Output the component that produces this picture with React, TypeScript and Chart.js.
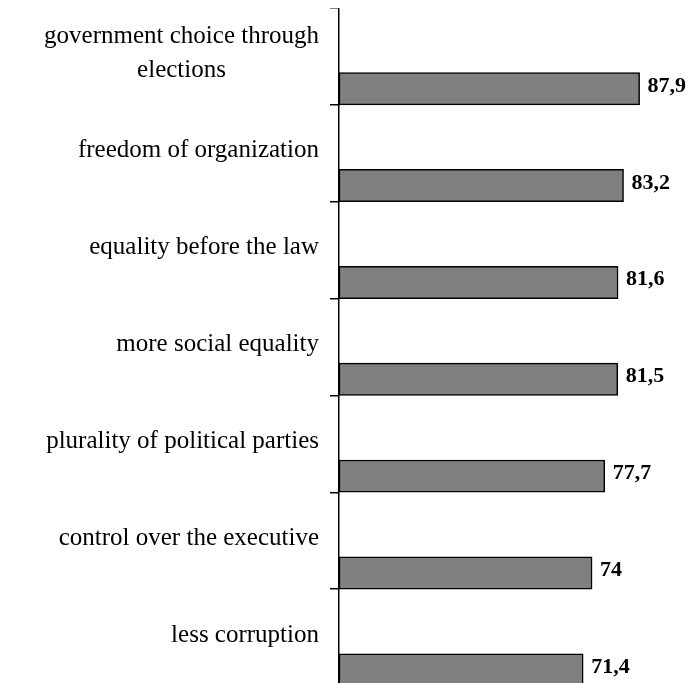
import React, { useEffect, useRef } from "react";
import { Chart, registerables } from "chart.js";

Chart.register(...registerables);

const categories: string[][] = [
  ["government choice through", "elections"],
  ["freedom of organization"],
  ["equality before the law"],
  ["more social equality"],
  ["plurality of political parties"],
  ["control over the executive"],
  ["less corruption"],
];
const values: number[] = [87.9, 83.2, 81.6, 81.5, 77.7, 74, 71.4];
const valueLabels: string[] = ["87,9", "83,2", "81,6", "81,5", "77,7", "74", "71,4"];

const FONT = '"Liberation Serif", "Times New Roman", serif';

const labelPlugin = {
  id: "customLabels",
  afterDraw(chart: any) {
    const ctx = chart.ctx;
    const yScale = chart.scales.y;
    ctx.save();
    ctx.fillStyle = "#000";
    ctx.font = `25px ${FONT}`;
    ctx.textBaseline = "alphabetic";
    ctx.textAlign = "center";
    const rightEdge = yScale.right - 20;
    categories.forEach((lines, i) => {
      const cy = yScale.getPixelForValue(i);
      const widest = Math.max(...lines.map((l) => ctx.measureText(l).width));
      const cx = rightEdge - widest / 2;
      lines.forEach((line, j) => {
        const y = cy + 4 + (j - (lines.length - 1) / 2) * 34;
        ctx.fillText(line, cx, y);
      });
    });
    ctx.font = `bold 22px ${FONT}`;
    ctx.textAlign = "left";
    const meta = chart.getDatasetMeta(2);
    meta.data.forEach((bar: any, i: number) => {
      ctx.fillText(valueLabels[i], bar.x + 8, bar.y + 3);
    });
    ctx.restore();
  },
};

export default function App() {
  const ref = useRef<HTMLCanvasElement>(null);
  useEffect(() => {
    if (!ref.current) return;
    const empty = values.map(() => null);
    const chart = new Chart(ref.current, {
      type: "bar",
      data: {
        labels: categories.map((c) => c.join(" ")),
        datasets: [
          { data: empty as any, backgroundColor: "transparent" },
          { data: empty as any, backgroundColor: "transparent" },
          {
            data: values,
            backgroundColor: "#808080",
            borderColor: "#000",
            borderWidth: 1.5,
            borderSkipped: false,
          },
        ],
      },
      options: {
        indexAxis: "y",
        animation: false,
        responsive: true,
        maintainAspectRatio: false,
        layout: { padding: { top: 0, right: 6, bottom: 0, left: 0 } },
        datasets: { bar: { categoryPercentage: 1, barPercentage: 1 } },
        plugins: { legend: { display: false }, tooltip: { enabled: false } },
        scales: {
          x: { display: false, min: 0, max: 100 },
          y: {
            offset: true,
            afterFit: (scale: any) => {
              scale.width = 331;
            },
            ticks: { display: false },
            grid: {
              offset: true,
              drawOnChartArea: false,
              drawTicks: true,
              tickLength: 9,
              color: "#000",
              lineWidth: 1.5,
            },
            border: { display: true, color: "#000", width: 1.5 },
          },
        },
      },
      plugins: [labelPlugin],
    });
    return () => chart.destroy();
  }, []);
  return (
    <div style={{ height: 675, overflow: "hidden" }}>
      <div style={{ position: "relative", width: 679, height: 678 }}>
        <canvas ref={ref} />
      </div>
    </div>
  );
}
